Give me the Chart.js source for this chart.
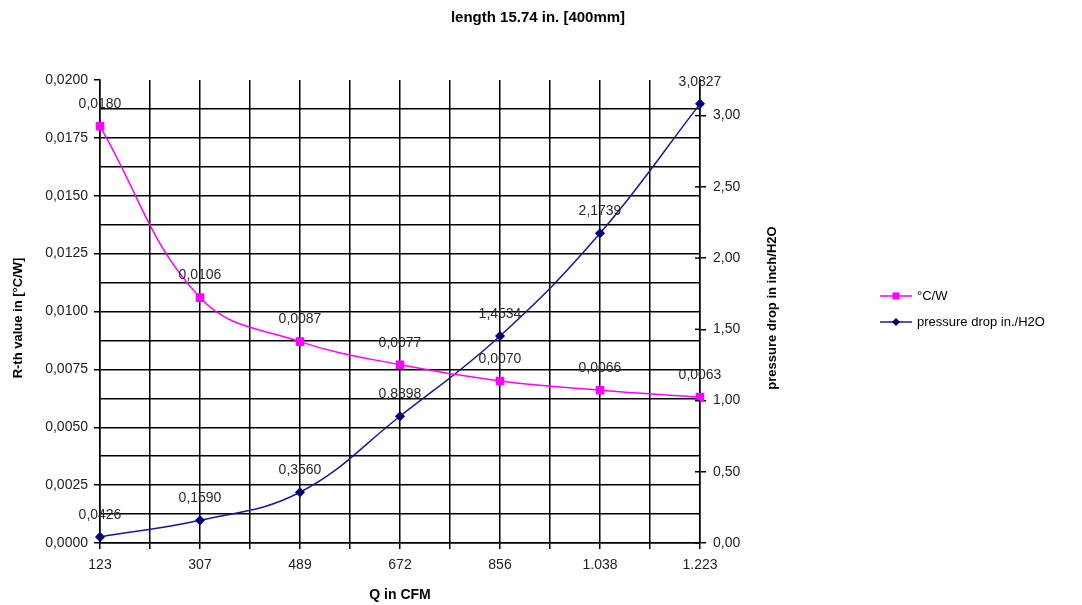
<!DOCTYPE html>
<html>
<head>
<meta charset="utf-8">
<script src="https://cdn.jsdelivr.net/npm/chart.js@4/dist/chart.umd.min.js"></script>
<style>
  html, body { margin: 0; padding: 0; background: #fff; }
  #wrap { width: 1082px; height: 605px; }
</style>
</head>
<body>
<div id="wrap"><canvas id="chart" width="1082" height="605"></canvas></div>
<script>
// Данные графика
const categories = ['123', '307', '489', '672', '856', '1.038', '1.223'];
const rthValues = [0.0180, 0.0106, 0.0087, 0.0077, 0.0070, 0.0066, 0.0063];
const pressureValues = [0.0426, 0.1590, 0.3560, 0.8898, 1.4534, 2.1739, 3.0827];
const rthLabels = ['0,0180', '0,0106', '0,0087', '0,0077', '0,0070', '0,0066', '0,0063'];
const pressureLabels = ['0,0426', '0,1590', '0,3560', '0,8898', '1,4534', '2,1739', '3,0827'];

const FONT = "'Liberation Sans', Arial, sans-serif";

function toPoints(values) {
  return values.map((v, i) => ({x: i, y: v}));
}

function fmtComma(value, digits) {
  return value.toFixed(digits).replace('.', ',');
}

/**
 * Подписи, заголовки и легенда
 */
const decorPlugin = {
  id: 'decor',
  afterDatasetsDraw(chart) {
    const ctx = chart.ctx;
    const area = chart.chartArea;
    ctx.save();

    // подписи значений
    ctx.font = '14px ' + FONT;
    ctx.fillStyle = '#2a2a2a';
    ctx.textAlign = 'center';
    ctx.textBaseline = 'middle';
    const labelSets = [rthLabels, pressureLabels];
    chart.data.datasets.forEach((ds, di) => {
      const meta = chart.getDatasetMeta(di);
      meta.data.forEach((pt, i) => {
        ctx.fillText(labelSets[di][i], pt.x, pt.y - 22);
      });
    });

    // заголовок
    ctx.fillStyle = '#000';
    ctx.font = 'bold 15px ' + FONT;
    ctx.fillText('length 15.74 in. [400mm]', 538, 18);

    // подписи осей
    ctx.font = 'bold 14px ' + FONT;
    ctx.fillText('Q in CFM', (area.left + area.right) / 2, 595);

    ctx.font = 'bold 13px ' + FONT;
    ctx.save();
    ctx.translate(18, 318);
    ctx.rotate(-Math.PI / 2);
    ctx.fillText('R-th value in [°C/W]', 0, 0);
    ctx.restore();

    ctx.save();
    ctx.translate(772, 308);
    ctx.rotate(-Math.PI / 2);
    ctx.fillText('pressure drop in inch/H2O', 0, 0);
    ctx.restore();

    // засечки правой оси пересекают линию оси
    const y1 = chart.scales.y1;
    ctx.strokeStyle = '#000';
    ctx.lineWidth = 1.5;
    y1.ticks.forEach(t => {
      if (t.value > 3.0) return;
      const py = y1.getPixelForValue(t.value);
      ctx.beginPath();
      ctx.moveTo(area.right - 5, py);
      ctx.lineTo(area.right, py);
      ctx.stroke();
    });

    // легенда
    ctx.font = '13px ' + FONT;
    ctx.textAlign = 'left';
    const legendNames = ['°C/W', 'pressure drop in./H2O'];
    chart.data.datasets.forEach((ds, di) => {
      const y = 296 + di * 26;
      ctx.strokeStyle = ds.borderColor;
      ctx.lineWidth = 1.5;
      ctx.beginPath();
      ctx.moveTo(880, y);
      ctx.lineTo(912, y);
      ctx.stroke();
      ctx.fillStyle = ds.pointBackgroundColor;
      ctx.strokeStyle = ds.pointBorderColor;
      Chart.helpers.drawPoint(ctx, {
        pointStyle: ds.pointStyle,
        radius: ds.pointRadius,
        rotation: 0,
        borderWidth: 0
      }, 896, y);
      ctx.fillStyle = '#000';
      ctx.fillText(legendNames[di], 917, y);
    });

    ctx.restore();
  }
};

new Chart(document.getElementById('chart'), {
  type: 'line',
  data: {
    datasets: [{
      label: '°C/W',
      data: toPoints(rthValues),
      yAxisID: 'y',
      borderColor: '#ff00ff',
      backgroundColor: '#ff00ff',
      pointBackgroundColor: '#ff00ff',
      pointBorderColor: '#ff00ff',
      pointStyle: 'rect',
      pointRadius: 5,
      borderWidth: 1.5,
      tension: 0.4,
      clip: false
    }, {
      label: 'pressure drop in./H2O',
      data: toPoints(pressureValues),
      yAxisID: 'y1',
      borderColor: '#1a1a8c',
      backgroundColor: '#00007a',
      pointBackgroundColor: '#00007a',
      pointBorderColor: '#00007a',
      pointStyle: 'rectRot',
      pointRadius: 4,
      borderWidth: 1.5,
      tension: 0.4,
      clip: false
    }]
  },
  options: {
    responsive: false,
    animation: false,
    devicePixelRatio: 1,
    layout: {padding: {top: 80}},
    plugins: {
      legend: {display: false},
      tooltip: {enabled: false}
    },
    scales: {
      x: {
        type: 'linear',
        min: 0,
        max: categories.length - 1,
        afterFit: function(scale) { scale.height = 62; },
        border: {color: '#000', width: 1.5},
        grid: {color: '#000', lineWidth: 1.5, tickLength: 6, tickColor: '#000'},
        ticks: {
          stepSize: 0.5,
          autoSkip: false,
          maxRotation: 0,
          padding: 8,
          color: '#222',
          font: {family: FONT, size: 14},
          callback: function(value) {
            return Number.isInteger(value) ? categories[value] : '';
          }
        }
      },
      y: {
        position: 'left',
        min: 0,
        max: 0.02,
        afterFit: function(scale) { scale.width = 100; },
        border: {color: '#000', width: 1.5},
        grid: {
          lineWidth: 1.5,
          tickLength: 6,
          color: function(c) {
            return c.tick && c.tick.value >= 0.0199 ? 'rgba(0,0,0,0)' : '#000';
          },
          tickColor: function(c) {
            return c.tick && Math.round(c.tick.value / 0.00125) % 2 === 0 ? '#000' : 'rgba(0,0,0,0)';
          }
        },
        ticks: {
          stepSize: 0.00125,
          autoSkip: false,
          padding: 6,
          color: '#222',
          font: {family: FONT, size: 14},
          callback: function(value) {
            return Math.round(value / 0.00125) % 2 === 0 ? fmtComma(value, 4) : '';
          }
        }
      },
      y1: {
        position: 'right',
        min: 0,
        max: 3.25,
        afterFit: function(scale) { scale.width = 382; },
        border: {color: '#000', width: 1.5},
        grid: {
          drawOnChartArea: false,
          lineWidth: 1.5,
          tickLength: 6,
          tickColor: function(c) {
            return c.tick && c.tick.value <= 3.0 ? '#000' : 'rgba(0,0,0,0)';
          }
        },
        ticks: {
          stepSize: 0.5,
          autoSkip: false,
          padding: 7,
          color: '#222',
          font: {family: FONT, size: 14},
          callback: function(value) {
            return value <= 3.0 ? fmtComma(value, 2) : '';
          }
        }
      }
    }
  },
  plugins: [decorPlugin]
});
</script>
</body>
</html>
